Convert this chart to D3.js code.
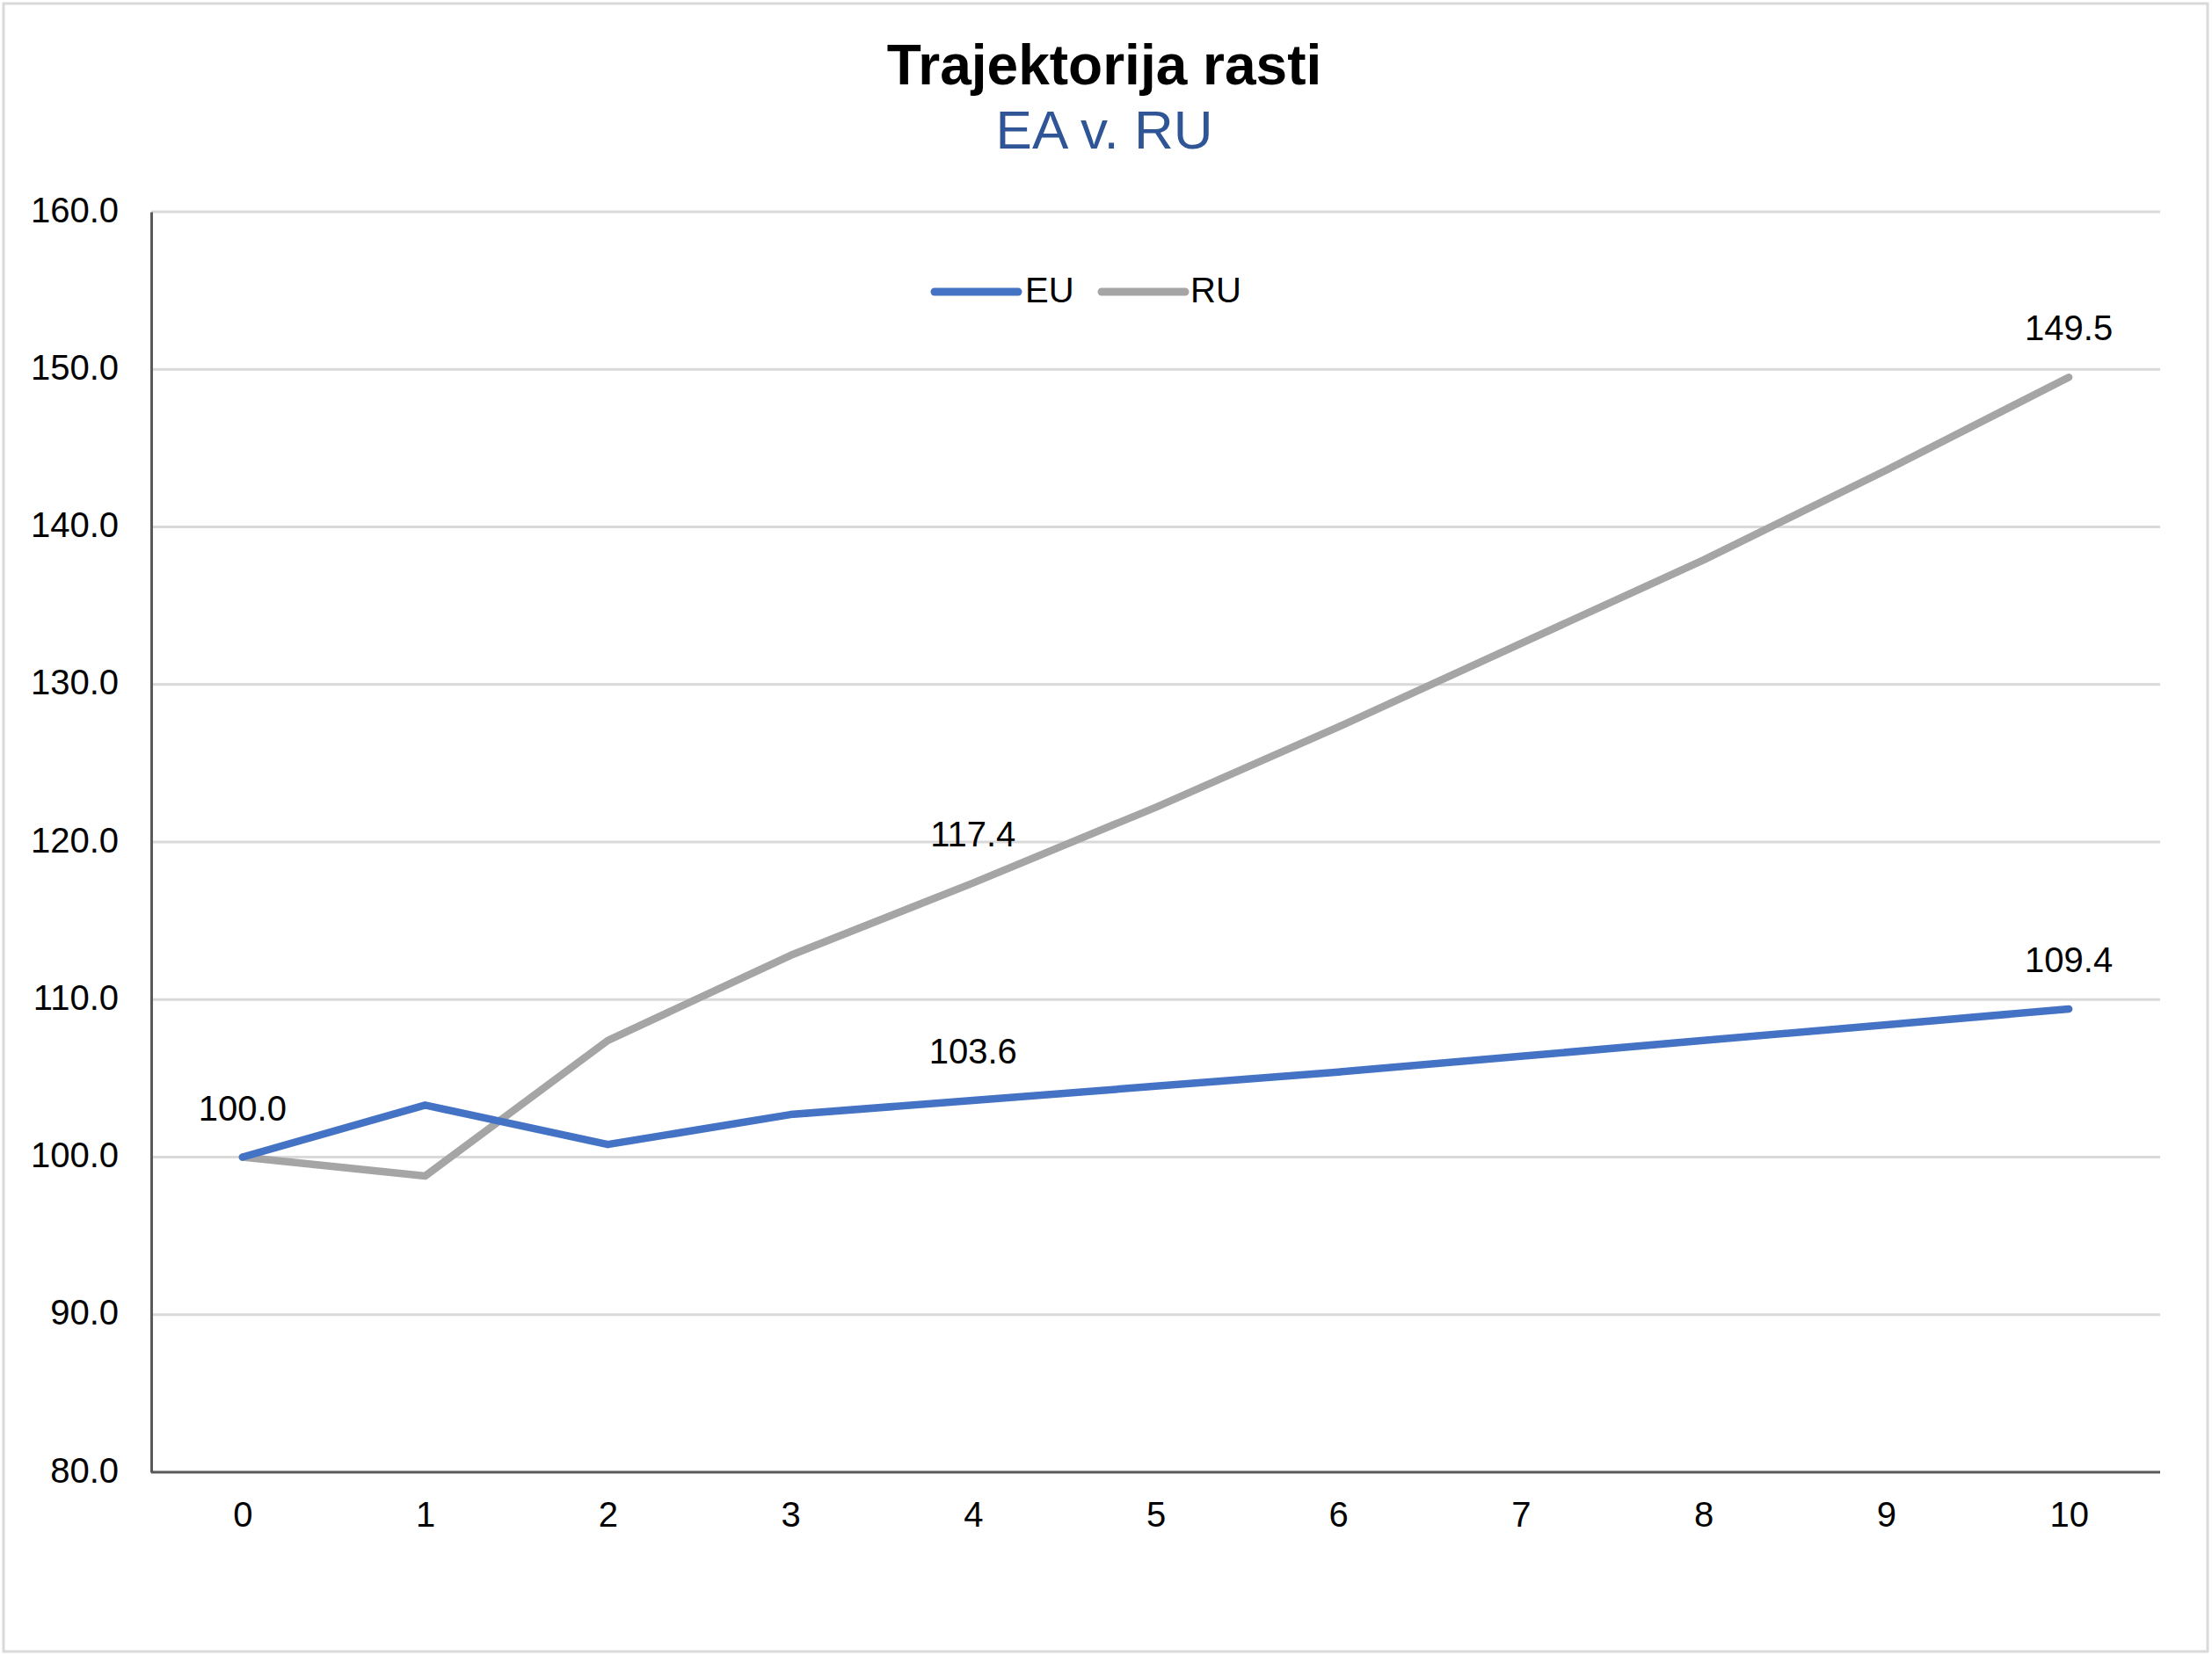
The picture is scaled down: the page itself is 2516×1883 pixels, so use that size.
<!DOCTYPE html>
<html>
<head>
<meta charset="utf-8">
<script src="https://cdn.jsdelivr.net/npm/d3@7"></script>
<style>
  html, body { margin: 0; padding: 0; background: #fff; }
  svg { display: block; }
  text { font-family: "Liberation Sans", Arial, Helvetica, sans-serif; }
</style>
</head>
<body>
<svg id="chart" width="2516" height="1883"></svg>
<script>
// ---- data ----
const categories = [0, 1, 2, 3, 4, 5, 6, 7, 8, 9, 10];
const euValues = [100.0, 103.3, 100.8, 102.7, 103.6, 104.5, 105.4, 106.4, 107.4, 108.4, 109.4];
const ruValues = [100.0, 98.8, 107.4, 112.8, 117.4, 122.2, 127.3, 132.6, 137.9, 143.6, 149.5];
const seriesNames = ["EU", "RU"];
const seriesColors = ["#4472C4", "#A5A5A5"];
const yTicks = [80, 90, 100, 110, 120, 130, 140, 150, 160];
const euLabelIdx = [0, 4, 10];
const ruLabelIdx = [4, 10];
const titleText = "Trajektorija rasti";
const subtitleText = "EA v. RU";

// ---- layout ----
const W = 2516, H = 1883;
const plot = { left: 172, right: 2457, top: 241, bottom: 1675 };
const svg = d3.select("#chart");

// outer border
svg.append("rect")
  .attr("x", 4).attr("y", 4).attr("width", W - 9).attr("height", H - 8)
  .attr("fill", "#fff").attr("stroke", "#D9D9D9").attr("stroke-width", 3);

const x = d3.scalePoint().domain(categories).range([plot.left, plot.right]).padding(0.5);
const y = d3.scaleLinear().domain([80, 160]).range([plot.bottom, plot.top]);

// gridlines
svg.append("g").selectAll("line")
  .data(yTicks.filter(d => d !== 80))
  .join("line")
  .attr("x1", plot.left).attr("x2", plot.right)
  .attr("y1", d => y(d)).attr("y2", d => y(d))
  .attr("stroke", "#D9D9D9").attr("stroke-width", 3);

// y axis
const yAxis = svg.append("g")
  .attr("transform", `translate(${plot.left},0)`)
  .call(d3.axisLeft(y).tickValues(yTicks).tickFormat(d3.format(".1f")).tickSize(0).tickPadding(37));
yAxis.select(".domain").attr("stroke", "#595959").attr("stroke-width", 3);
yAxis.selectAll("text")
  .attr("font-size", 40).attr("fill", "#000")
  .attr("dy", "0.28em");

// x axis
const xAxis = svg.append("g")
  .attr("transform", `translate(0,${plot.bottom})`)
  .call(d3.axisBottom(x).tickSize(0).tickPadding(34));
xAxis.select(".domain").attr("stroke", "#595959").attr("stroke-width", 3)
  .attr("d", `M${plot.left},0H${plot.right}`);
xAxis.selectAll("text").attr("font-size", 40).attr("fill", "#000").attr("dy", "0.71em");

// lines
const series = [euValues, ruValues];
const line = d3.line().x((d, i) => x(categories[i])).y(d => y(d));
svg.append("g").selectAll("path")
  .data([1, 0])
  .join("path")
  .attr("d", k => line(series[k]))
  .attr("fill", "none")
  .attr("stroke", k => seriesColors[k])
  .attr("stroke-width", 8.5)
  .attr("stroke-linejoin", "round")
  .attr("stroke-linecap", "round");

// data labels
const labels = [
  ...euLabelIdx.map(i => ({ i, v: euValues[i] })),
  ...ruLabelIdx.map(i => ({ i, v: ruValues[i] }))
];
svg.append("g").selectAll("text")
  .data(labels)
  .join("text")
  .attr("x", d => x(categories[d.i]))
  .attr("y", d => y(d.v) - 42)
  .attr("text-anchor", "middle")
  .attr("font-size", 40)
  .attr("fill", "#000")
  .text(d => d3.format(".1f")(d.v));

// legend
const legendItems = [
  { name: seriesNames[0], color: seriesColors[0], x0: 1063, x1: 1158, tx: 1166 },
  { name: seriesNames[1], color: seriesColors[1], x0: 1253, x1: 1348, tx: 1354 }
];
const lg = svg.append("g");
lg.selectAll("line").data(legendItems).join("line")
  .attr("x1", d => d.x0).attr("x2", d => d.x1)
  .attr("y1", 332).attr("y2", 332)
  .attr("stroke", d => d.color).attr("stroke-width", 9).attr("stroke-linecap", "round");
lg.selectAll("text").data(legendItems).join("text")
  .attr("x", d => d.tx).attr("y", 344)
  .attr("font-size", 40).attr("fill", "#000")
  .text(d => d.name);

// title
svg.append("text")
  .attr("x", 1256).attr("y", 96)
  .attr("text-anchor", "middle")
  .attr("font-size", 64).attr("font-weight", "bold").attr("fill", "#000")
  .text(titleText);
svg.append("text")
  .attr("x", 1256).attr("y", 169)
  .attr("text-anchor", "middle")
  .attr("font-size", 62).attr("fill", "#2F5597")
  .text(subtitleText);
</script>
</body>
</html>
